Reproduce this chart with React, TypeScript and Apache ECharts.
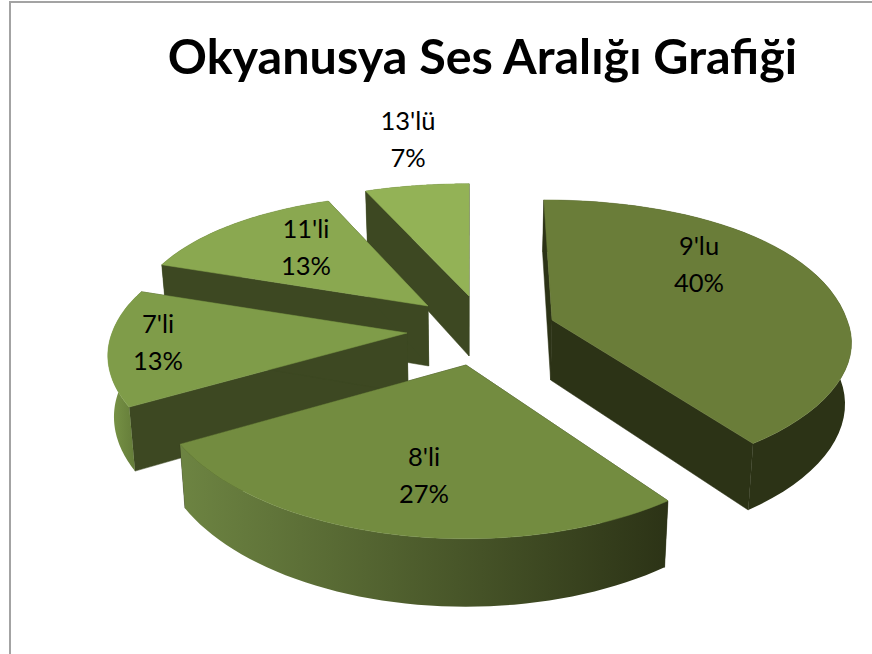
import React, { useEffect, useRef } from "react";
import * as echarts from "echarts";

const titleText = "Okyanusya Ses Aralığı Grafiği";
const categories = ["9'lu", "8'li", "7'li", "11'li", "13'lü"];
const counts = [6, 4, 2, 2, 1];

// Look of each slice, same order as the categories
const topColors = ["#6a7d39", "#738c40", "#7f9c49", "#8aa850", "#93b256"];
const wallColors = ["#2c3316", "#2c3316", "#3d4822", "#3d4822", "#3d4822"];
const arcStops = [
  ["#2c3316", "#2c3316"],
  ["#6d8442", "#2c3316"],
  ["#7b9748", "#5a7032"],
  ["#3d4822", "#3d4822"],
  ["#3d4822", "#3d4822"],
];
const paintOrder = [5, 20, 15, 10, 0];
const explodeX = [82, -4, -63, -42, -1];
const explodeY = [0, 45, 13, -14, -24];
const labelOffsetX = [147, -42, -249, -122, -61];
const labelOffsetY = [-57, 109, 8, -60, -158];

const PIE = {
  cx: 470, cy: 320, rx: 295, ry: 143, persX: 0.15, persY: 0.215, shiftPers: 0.1,
  nearY: 365, nearYGain: 0.002, nearXFrom: 335, nearXGain: 0.00135, backGain: 0.00085,
  depth: 60, depthGrow: 8, baseShrink: 0.983, startDeg: 0,
};

const total = counts.reduce((a, b) => a + b, 0);

function project(ax: number, ay: number, deg: number): [number, number] {
  const t = (deg * Math.PI) / 180;
  const u = Math.sin(t);
  const v = -Math.cos(t);
  const yScale = v > 0
    ? 1 + (ay - PIE.nearY) * PIE.nearYGain
    : 1 + Math.max(0, ax - PIE.cx) * PIE.backGain;
  const xScale = 1 + Math.max(0, ay - PIE.nearXFrom) * PIE.nearXGain;
  return [
    ax + PIE.rx * u * (1 + PIE.persX * v) * xScale + (ax - PIE.cx) * PIE.shiftPers * v,
    ay + PIE.ry * v * (1 + PIE.persY * v) * yScale,
  ];
}

function lower(p: [number, number], v: number): [number, number] {
  return [PIE.cx + (p[0] - PIE.cx) * PIE.baseShrink, p[1] + PIE.depth + PIE.depthGrow * v];
}

export default function App() {
  const ref = useRef<HTMLDivElement>(null);
  useEffect(() => {
    document.body.style.margin = "0";
    const chart = echarts.init(ref.current!, null, { renderer: "svg" });
    chart.setOption({
      animation: false,
      backgroundColor: "#ffffff",
      title: {
        text: titleText,
        left: 477.5,
        top: 25,
        textAlign: "center",
        textStyle: { fontFamily: "Lato", fontWeight: "bold", fontSize: 48.5, color: "#000000" },
      },
      graphic: [
        { type: "rect", shape: { x: 10, y: 2, width: 900, height: 700 }, style: { fill: "none", stroke: "#a3a3a3", lineWidth: 2 }, silent: true },
      ],
      series: [
        {
          type: "custom",
          coordinateSystem: "none",
          data: counts.map((value, i) => ({ name: categories[i], value })),
          renderItem: (params: any, api: any) => {
            const i = params.dataIndex;
            const before = counts.slice(0, i).reduce((a, b) => a + b, 0);
            const start = PIE.startDeg + (before / total) * 360;
            const end = PIE.startDeg + ((before + api.value(0)) / total) * 360;
            const ax = PIE.cx + explodeX[i];
            const ay = PIE.cy + explodeY[i];
            const apex: [number, number] = [ax, ay];
            const apexLow = lower(apex, 0);
            const rim: [number, number][] = [];
            const rimLow: [number, number][] = [];
            const steps = 48;
            for (let k = 0; k <= steps; k++) {
              const d = start + ((end - start) * k) / steps;
              const p = project(ax, ay, d);
              rim.push(p);
              rimLow.push(lower(p, -Math.cos((d * Math.PI) / 180)));
            }
            const z = paintOrder[i];
            const wall = wallColors[i];
            const percent = Math.round((api.value(0) / total) * 100);
            return {
              type: "group",
              children: [
                { type: "polygon", z2: z, shape: { points: [apex, rim[0], rimLow[0], apexLow] }, style: { fill: wall, stroke: wall, lineWidth: 0.5 } },
                { type: "polygon", z2: z, shape: { points: [apex, rim[steps], rimLow[steps], apexLow] }, style: { fill: wall, stroke: wall, lineWidth: 0.5 } },
                {
                  type: "polygon",
                  z2: z + 1,
                  shape: { points: [...rim, ...rimLow.slice().reverse()] },
                  style: {
                    fill: {
                      type: "linear", x: 0, y: 0, x2: 1, y2: 0,
                      colorStops: [
                        { offset: 0, color: arcStops[i][0] },
                        { offset: 1, color: arcStops[i][1] },
                      ],
                    },
                  },
                },
                { type: "polygon", z2: z + 2, shape: { points: [apex, ...rim] }, style: { fill: topColors[i], stroke: topColors[i], lineWidth: 0.5 } },
                {
                  type: "text",
                  z2: 100,
                  style: {
                    x: ax + labelOffsetX[i],
                    y: ay + labelOffsetY[i],
                    text: `${categories[i]}\n${percent}%`,
                    align: "center",
                    verticalAlign: "middle",
                    font: "25.5px Lato",
                    lineHeight: 37,
                    fill: "#000000",
                  },
                },
              ],
            };
          },
        },
      ],
    });
    return () => chart.dispose();
  }, []);
  return <div ref={ref} style={{ width: 872, height: 654 }} />;
}
